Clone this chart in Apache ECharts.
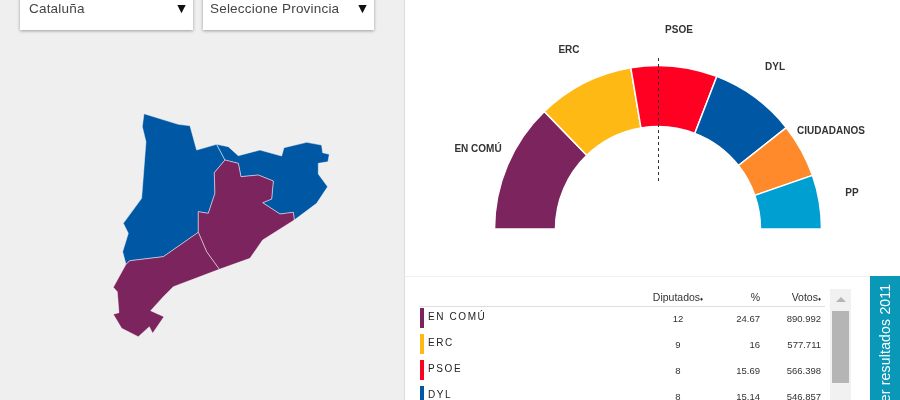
<!DOCTYPE html>
<html>
<head>
<meta charset="utf-8">
<title>Resultados Cataluña</title>
<script src="https://cdn.jsdelivr.net/npm/echarts@6/dist/echarts.min.js"></script>
<style>
html, body { margin: 0; padding: 0; background: #fff; overflow: hidden; }
body { width: 900px; height: 400px; position: relative; font-family: "Liberation Sans", Arial, sans-serif; color: #333; }
#panel { position: absolute; left: 0; top: 0; width: 404px; height: 400px; background: #efefef; border-right: 1px solid #dedede; }
#main { position: absolute; left: 0; top: 0; width: 900px; height: 400px; }
.select { position: absolute; top: -10px; height: 40px; background: #fff; box-shadow: 0 1px 3px rgba(0,0,0,.35); font-size: 13.5px; letter-spacing: .2px; color: #444; }
.select span { position: absolute; left: 9px; top: 11px; }
.select.second span { left: 7px; }
.select i { position: absolute; right: 7px; top: 12px; font-style: normal; font-size: 11px; color: #111; font-family: "DejaVu Sans"; }
#sep { position: absolute; left: 405px; top: 276px; width: 495px; height: 1px; background: #f0f0f0; }
#table1 { position: absolute; left: 419px; top: 288px; width: 406px; border-collapse: collapse; font-size: 9px; color: #333; table-layout: fixed; }
#table1 th { height: 18px; font-weight: normal; text-align: right; padding: 0 4px 0 0; border-bottom: 1px solid #ddd; font-size: 10.5px; }
#table1 th small { font-size: 6px; }
#table1 td { height: 26px; padding: 0 4px 2px 0; box-sizing: border-box; text-align: right; font-size: 9.5px; }
#table1 td.name { text-align: left; padding: 0; font-size: 10px; letter-spacing: 1.6px; color: #222; }
#table1 td.name b { display: inline-block; position: relative; top: -2px; width: 4px; height: 20px; margin: 0 4px 0 1px; vertical-align: middle; }
#table1 td.name span { position: relative; top: -2px; }
#table1 td.seats { text-align: center; }
#scroll { position: absolute; left: 830px; top: 289px; width: 21px; height: 111px; background: #f1f1f1; }
#scroll .arrow { position: absolute; left: 6px; top: 8px; width: 0; height: 0; border-left: 5px solid transparent; border-right: 5px solid transparent; border-bottom: 5px solid #b5b5b5; }
#scroll .thumb { position: absolute; left: 2px; top: 22px; width: 17px; height: 72px; background: #b5b5b5; }
#tab { position: absolute; left: 870px; top: 276px; width: 30px; height: 124px; background: #0a98b8; overflow: hidden; }
#tab span { position: absolute; left: 7px; top: 10px; writing-mode: vertical-rl; transform: rotate(180deg); color: #fff; font-size: 14px; letter-spacing: .2px; white-space: nowrap; height: 125px; }
</style>
</head>
<body>
<div id="panel"></div>
<div id="main"></div>
<div class="select" style="left:20px;width:173px"><span>Cataluña</span><i>▼</i></div>
<div class="select second" style="left:203px;width:171px"><span>Seleccione Provincia</span><i>▼</i></div>
<div id="sep"></div>
<table id="table1"></table>
<div id="scroll"><div class="arrow"></div><div class="thumb"></div></div>
<div id="tab"><span>Ver resultados 2011</span></div>
<script>
var parties = ['EN COMÚ', 'ERC', 'PSOE', 'DYL', 'CIUDADANOS', 'PP'];
var seats = [12, 9, 8, 8, 5, 5];
var partyColors = ['#7c245e', '#ffb914', '#ff0022', '#0058a4', '#ff8a2b', '#009fd1'];

// filas visibles de la tabla
var tablePct = ['24.67', '16', '15.69', '15.14'];
var tableVotes = ['890.992', '577.711', '566.398', '546.857'];

var provinces = ['Lleida', 'Girona', 'Barcelona', 'Tarragona'];
var provinceWinner = ['DYL', 'DYL', 'EN COMÚ', 'EN COMÚ'];

// contornos en coordenadas del recorte (x3)
var lleida = [[132,26],[235,58],[270,62],[290,135],[350,118],[375,165],[343,203],[345,265],[325,325],[295,320],[295,382],[190,455],[90,467],[78,478],[68,440],[85,385],[70,355],[125,280],[138,110],[127,65]];
var girona = [[350,118],[385,125],[415,152],[480,135],[545,153],[552,128],[620,112],[665,120],[668,143],[688,148],[684,170],[655,175],[655,207],[683,245],[650,295],[583,345],[580,322],[540,327],[488,293],[515,282],[520,228],[475,210],[423,215],[415,175],[375,165]];
var barcelona = [[375,165],[415,175],[423,215],[475,210],[520,228],[515,282],[488,293],[540,327],[580,322],[583,345],[488,405],[450,460],[358,493],[320,440],[295,382],[295,320],[325,325],[345,265],[343,203]];
var tarragona = [[295,382],[320,440],[358,493],[220,545],[190,575],[152,617],[192,635],[158,685],[148,665],[115,695],[65,670],[40,628],[57,623],[52,560],[40,547],[78,478],[90,467],[190,455]];
var outlines = [lleida, girona, barcelona, tarragona];

// posicion de cada etiqueta del semicirculo
var labelPos = [[478,149],[569,50],[679,30],[775,67],[831,131],[852,193]];

function buildGeo() {
    return {
        type: 'FeatureCollection',
        features: provinces.map(function (name, i) {
            var ring = outlines[i].map(function (p) { return [p[0], -p[1]]; });
            ring.push(ring[0]);
            return { type: 'Feature', properties: { name: name }, geometry: { type: 'Polygon', coordinates: [ring] } };
        })
    };
}

function initChart() {
    echarts.registerMap('cataluna', buildGeo());
    var myChart = echarts.init(document.getElementById('main'), null, { renderer: 'canvas' });
    var option = {
        animation: false,
        backgroundColor: 'transparent',
        textStyle: { fontFamily: '"Liberation Sans", Arial, sans-serif' },
        series: [
            {
                type: 'map',
                map: 'cataluna',
                silent: true,
                aspectScale: 1,
                left: 113.3,
                top: 113.7,
                width: 216,
                height: 223,
                label: { show: false },
                itemStyle: { borderColor: 'rgba(255,255,255,0.45)', borderWidth: 1 },
                data: provinces.map(function (name, i) {
                    return { name: name, value: 1, itemStyle: { areaColor: partyColors[parties.indexOf(provinceWinner[i])] } };
                })
            },
            {
                type: 'pie',
                silent: true,
                center: [658, 229],
                radius: [102.5, 163.5],
                startAngle: 180,
                endAngle: 0,
                itemStyle: { borderColor: '#fff', borderWidth: 1.5 },
                label: { show: true, position: 'outside', color: '#333', fontSize: 10, fontWeight: 'bold', overflow: 'none', width: 100, formatter: '{b}' },
                labelLine: { show: false },
                labelLayout: function (params) {
                    var p = labelPos[params.dataIndex];
                    return { x: p[0], y: p[1], align: 'center', verticalAlign: 'middle' };
                },
                data: parties.map(function (name, i) {
                    return { name: name, value: seats[i], itemStyle: { color: partyColors[i] } };
                })
            }
        ],
        graphic: [{
            type: 'line',
            silent: true,
            z: 100,
            shape: { x1: 658.5, y1: 58, x2: 658.5, y2: 182 },
            style: { stroke: '#333', lineWidth: 1, lineDash: [3, 3] }
        }]
    };
    myChart.setOption(option);
}

function initTable() {
    var html = '<colgroup><col style="width:219px"><col style="width:84px"><col style="width:42px"><col style="width:61px"></colgroup>';
    html += '<tr><th></th><th style="text-align:center">Diputados<small>♦</small></th><th>%</th><th>Votos<small>♦</small></th></tr>';
    for (var i = 0; i < tablePct.length; i++) {
        html += '<tr><td class="name"><b style="background:' + partyColors[i] + '"></b><span>' + parties[i] + '</span></td>' +
            '<td class="seats">' + seats[i] + '</td><td>' + tablePct[i] + '</td><td>' + tableVotes[i] + '</td></tr>';
    }
    document.getElementById('table1').innerHTML = html;
}

initChart();
initTable();
</script>
</body>
</html>
